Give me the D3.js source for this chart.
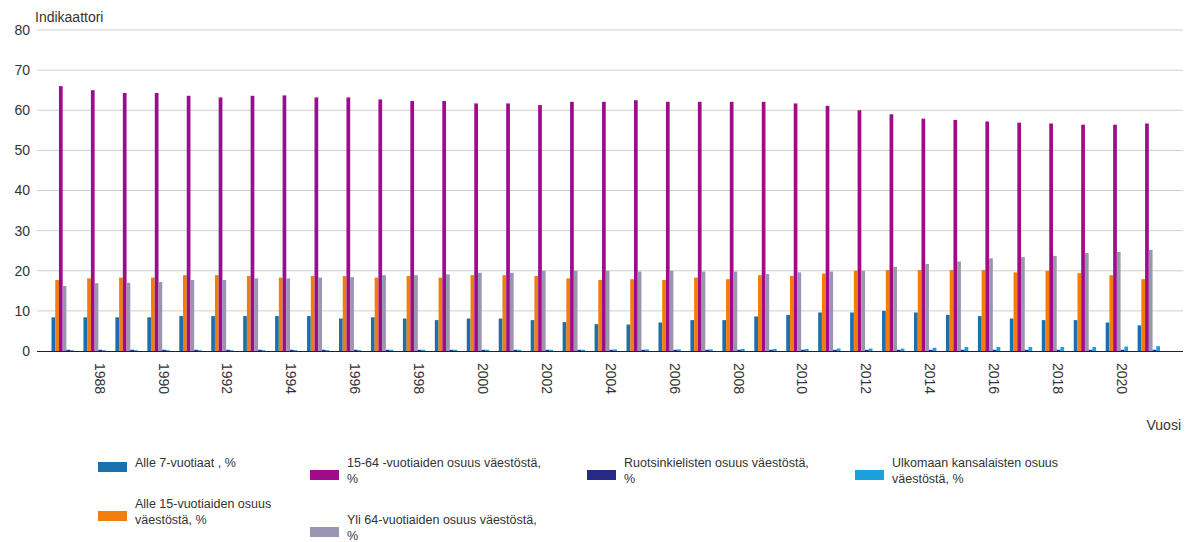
<!DOCTYPE html>
<html>
<head>
 <meta charset="utf-8"/>
 <script src="https://d3js.org/d3.v7.min.js"></script>
 <style>
  body { margin: 0; background: #fff; }
  text { font-family: "Liberation Sans", Arial, sans-serif; fill: #333; }
 </style>
</head>
<body>
 <div id="chart"></div>
 <script type="text/javascript">
   // vuodet ja sarjat
   var years = d3.range(1987, 2022);
   var alle7 = [8.4, 8.4, 8.4, 8.4, 8.7, 8.7, 8.7, 8.7, 8.7, 8.1, 8.4, 8.1, 7.7, 8.1, 8.1, 7.7, 7.2, 6.7, 6.6, 7.1,
                7.7, 7.7, 8.6, 9.0, 9.6, 9.6, 10.0, 9.6, 9.0, 8.7, 8.1, 7.7, 7.7, 7.1, 6.4];
   var alle15 = [17.7, 18.1, 18.3, 18.3, 18.9, 18.9, 18.7, 18.3, 18.7, 18.7, 18.3, 18.7, 18.3, 18.9, 18.9, 18.7, 18.1, 17.7,
                 17.9, 17.7, 18.3, 17.9, 18.9, 18.7, 19.3, 20.0, 20.2, 20.2, 20.2, 20.2, 19.6, 20.0, 19.4, 18.9, 17.9];
   var v1564 = [66.0, 65.0, 64.3, 64.3, 63.6, 63.2, 63.6, 63.7, 63.2, 63.2, 62.7, 62.3, 62.3, 61.7, 61.7, 61.3, 62.1, 62.1,
                62.5, 62.1, 62.1, 62.1, 62.1, 61.7, 61.1, 60.0, 59.0, 57.9, 57.6, 57.2, 56.9, 56.7, 56.4, 56.4, 56.7];
   var yli64 = [16.2, 16.9, 17.0, 17.2, 17.7, 17.7, 18.1, 18.1, 18.3, 18.4, 18.9, 18.9, 19.1, 19.5, 19.5, 20.0, 20.0, 20.0,
                19.8, 20.0, 19.8, 19.8, 19.2, 19.6, 19.8, 20.0, 21.0, 21.7, 22.3, 23.1, 23.4, 23.7, 24.4, 24.7, 25.2];
   var ruotsi = [0.3, 0.3, 0.3, 0.3, 0.3, 0.3, 0.3, 0.3, 0.3, 0.3, 0.3, 0.3, 0.3, 0.3, 0.3, 0.3, 0.3, 0.3,
                 0.3, 0.3, 0.3, 0.3, 0.3, 0.3, 0.3, 0.3, 0.3, 0.3, 0.3, 0.3, 0.3, 0.3, 0.3, 0.3, 0.3];
   var ulkom = [0.2, 0.2, 0.2, 0.2, 0.2, 0.2, 0.2, 0.2, 0.2, 0.2, 0.3, 0.3, 0.3, 0.3, 0.3, 0.3, 0.3, 0.4,
                0.4, 0.4, 0.4, 0.5, 0.5, 0.5, 0.6, 0.6, 0.6, 0.8, 1.0, 1.0, 1.0, 1.0, 1.0, 1.1, 1.2];
   var yTicks = [0, 10, 20, 30, 40, 50, 60, 70, 80];
   var xTickYears = d3.range(1988, 2022, 2);

   var seriesNames = ["Alle 7-vuotiaat , %", "Alle 15-vuotiaiden osuus väestöstä, %",
                      "15-64 -vuotiaiden osuus väestöstä, %", "Yli 64-vuotiaiden osuus väestöstä, %",
                      "Ruotsinkielisten osuus väestöstä, %", "Ulkomaan kansalaisten osuus väestöstä, %"];
   // legendan rivitys kuten kuvassa
   var legendLines = [["Alle 7-vuotiaat , %"], ["Alle 15-vuotiaiden osuus", "väestöstä, %"],
                      ["15-64 -vuotiaiden osuus väestöstä,", "%"], ["Yli 64-vuotiaiden osuus väestöstä,", "%"],
                      ["Ruotsinkielisten osuus väestöstä,", "%"], ["Ulkomaan kansalaisten osuus", "väestöstä, %"]];
   var colors = ["#1a6fae", "#f07d0c", "#9e0c8a", "#9896b0", "#262a86", "#1aa0dc"];
   var seriesValues = [alle7, alle15, v1564, yli64, ruotsi, ulkom];

   var width = 1187, height = 542;
   var plotLeft = 37, plotRight = 1183, plotTop = 30, plotBottom = 351;

   var svg = d3.select("#chart").append("svg")
               .attr("width", width)
               .attr("height", height);

   var yScale = d3.scaleLinear().domain([0, 80]).range([plotBottom, plotTop]);
   var xScale = d3.scaleBand().domain(years).range([51.5, 1160]).paddingInner(0.3).paddingOuter(0);
   var xSub = d3.scaleBand().domain(d3.range(seriesValues.length)).range([0, xScale.bandwidth()]);

   // ruudukko
   svg.append("g")
      .selectAll("line")
      .data(yTicks.filter(function(d){ return d > 0; }))
      .enter().append("line")
      .attr("x1", plotLeft).attr("x2", plotRight)
      .attr("y1", function(d){ return yScale(d); })
      .attr("y2", function(d){ return yScale(d); })
      .style("stroke", "#cfcfcf").style("stroke-width", 1);

   // y-akseli
   var yAxis = d3.axisLeft(yScale).tickValues(yTicks).tickSize(0).tickPadding(7);
   var yg = svg.append("g")
      .attr("transform", "translate(" + plotLeft + ",0)")
      .call(yAxis);
   yg.select(".domain").remove();
   yg.selectAll("text").style("font-size", "14px").style("fill", "#333");

   // pylväät
   var groups = svg.append("g")
      .selectAll("g")
      .data(years)
      .enter().append("g")
      .attr("transform", function(d){ return "translate(" + xScale(d) + ",0)"; });
   groups.selectAll("rect")
      .data(function(d, i){ return seriesValues.map(function(s, k){ return {k: k, v: s[i]}; }); })
      .enter().append("rect")
      .attr("x", function(d){ return xSub(d.k); })
      .attr("width", xSub.bandwidth())
      .attr("y", function(d){ return yScale(d.v); })
      .attr("height", function(d){ return yScale(0) - yScale(d.v); })
      .style("fill", function(d){ return colors[d.k]; });

   // x-akseli
   var xAxis = d3.axisBottom(xScale).tickValues(xTickYears).tickSize(0).tickFormat(d3.format("d"));
   var xg = svg.append("g")
      .attr("transform", "translate(0," + plotBottom + ")")
      .call(xAxis);
   xg.select(".domain").remove();
   xg.selectAll("text")
      .attr("x", 0).attr("y", 0).attr("dy", 0)
      .attr("transform", "translate(0,12) rotate(90)")
      .style("text-anchor", "start")
      .style("font-size", "14px").style("fill", "#333");
   svg.append("line")
      .attr("x1", plotLeft).attr("x2", plotRight)
      .attr("y1", plotBottom + 0.5).attr("y2", plotBottom + 0.5)
      .style("stroke", "#222").style("stroke-width", 1.2);

   // akselien otsikot
   svg.append("text").attr("x", 35).attr("y", 22).text("Indikaattori").style("font-size", "14px");
   svg.append("text").attr("x", 1181).attr("y", 430).attr("text-anchor", "end")
      .text("Vuosi").style("font-size", "14px");

   // legenda: sarakkeittain
   var legendCols = [98, 310, 587, 855];
   var legendCol = [0, 0, 1, 1, 2, 3];
   var lineH = 16, itemGap = 25, legendTop = 457;
   var colY = [legendTop, legendTop, legendTop, legendTop];
   var legend = svg.append("g");
   seriesNames.forEach(function(name, k) {
     var c = legendCol[k];
     var lines = legendLines[k];
     var top = colY[c];
     var g = legend.append("g");
     var blockMid = top + lines.length * lineH / 2 + 2;
     g.append("rect")
      .attr("x", legendCols[c]).attr("y", blockMid - 5)
      .attr("width", 29).attr("height", 10)
      .style("fill", colors[k]);
     g.append("text")
      .attr("x", legendCols[c] + 37)
      .style("font-size", "12.5px")
      .selectAll("tspan")
      .data(lines)
      .enter().append("tspan")
      .attr("x", legendCols[c] + 37)
      .attr("y", function(d, i){ return top + 10 + i * lineH; })
      .text(function(d){ return d; });
     colY[c] = top + lines.length * lineH + itemGap;
   });
 </script>
</body>
</html>
